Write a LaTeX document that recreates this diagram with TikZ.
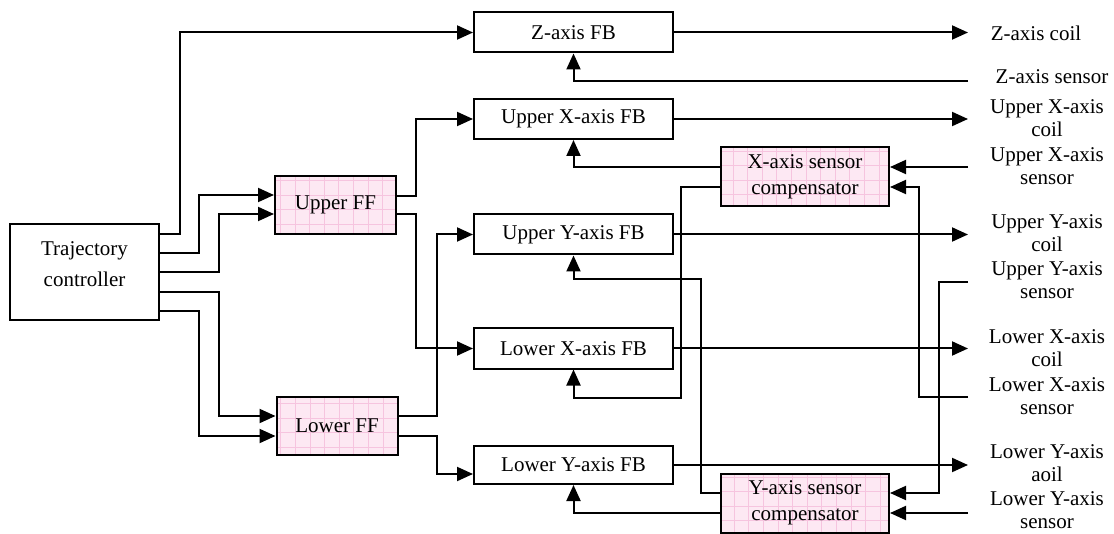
\documentclass[tikz,border=0pt]{standalone}
\usepackage{fontspec}
\setmainfont{Liberation Serif}
\usetikzlibrary{arrows.meta, calc}
\definecolor{ffpink}{HTML}{FDE8F3}
\definecolor{ffgrid}{HTML}{F6C4DF}

\begin{document}
\begin{tikzpicture}[x=0.5pt, y=-0.5pt,
    block/.style={draw, line width=1pt, inner sep=0pt, align=center, font=\fontsize{10.5}{13}\selectfont},
    fbblock/.style={block, minimum width=99.5pt, minimum height=20pt},
    pinkblock/.style={block, fill=ffpink, path picture={\draw[ffgrid, line width=0.3pt] (path picture bounding box.south west) grid[step=7.3pt] (path picture bounding box.north east);}},
    arr/.style={-{Triangle[length=8pt, width=7pt]}, line width=1pt},
    lbl/.style={align=center, inner sep=0pt, font=\fontsize{10.5}{11.5}\selectfont}]
    \useasboundingbox (0,0) rectangle (1114,534);

    \node[block, minimum width=74.5pt, minimum height=48pt, font=\fontsize{10.5}{15.5}\selectfont] (traj) at (84.5,272) {Trajectory\\controller\\[-7.5pt]};
    \node[pinkblock, minimum width=60.5pt, minimum height=29pt] (uff) at (335.5,205) {Upper FF};
    \node[pinkblock, minimum width=60.5pt, minimum height=29pt] (lff) at (337,426) {Lower FF};

    \node[fbblock] (zfb) at (573.5,32.5) {Z-axis FB};
    \node[fbblock] (uxfb) at (573.5,119) {Upper X-axis FB};
    \node[fbblock] (uyfb) at (573.5,234.5) {Upper Y-axis FB};
    \node[fbblock] (lxfb) at (573.5,348.5) {Lower X-axis FB};
    \node[fbblock, minimum height=19pt] (lyfb) at (573.5,465) {Lower Y-axis FB};

    \node[pinkblock, minimum width=84pt, minimum height=29.5pt] (xcomp) at (805,177) {X-axis sensor\\compensator};
    \node[pinkblock, minimum width=84pt, minimum height=29.5pt] (ycomp) at (805,503) {Y-axis sensor\\compensator};

    % coil and sensor terminals
    \node[lbl] (zcoil) at (1036,33) {Z-axis coil};
    \node[lbl] (zsens) at (1052,77) {Z-axis sensor};
    \node[lbl] (uxcoil) at (1047,118.5) {Upper X-axis\\coil};
    \node[lbl] (uxsens) at (1047,166) {Upper X-axis\\sensor};
    \node[lbl] (uycoil) at (1047,233.5) {Upper Y-axis\\coil};
    \node[lbl] (uysens) at (1047,280) {Upper Y-axis\\sensor};
    \node[lbl] (lxcoil) at (1047,348.5) {Lower X-axis\\coil};
    \node[lbl] (lxsens) at (1047,396) {Lower X-axis\\sensor};
    \node[lbl] (lycoil) at (1047,463.5) {Lower Y-axis\\aoil};
    \node[lbl] (lysens) at (1047,510) {Lower Y-axis\\sensor};

    \coordinate (edge) at (968,0);
    \coordinate (zsen) at (968,81);
    \coordinate (uxsen) at (968,167);
    \coordinate (uysen) at (968,282);
    \coordinate (lxsen) at (968,397);
    \coordinate (lysen) at (968,513);

    % trajectory controller to FB and FF
    \draw[arr] ([yshift=19pt]traj.east) -- ++(20,0) |- (zfb.west);
    \draw[arr] ([yshift=9.5pt]traj.east) -- ++(39,0) |- ([yshift=5pt]uff.west);
    \draw[arr] (traj.east) -- ++(59,0) |- ([yshift=-4.5pt]uff.west);
    \draw[arr] ([yshift=-10pt]traj.east) -- ++(59,0) |- ([yshift=5pt]lff.west);
    \draw[arr] ([yshift=-19.5pt]traj.east) -- ++(39,0) |- ([yshift=-5pt]lff.west);

    % feedforward to FB
    \draw[arr] ([yshift=4.5pt]uff.east) -- ++(19,0) |- (uxfb.west);
    \draw[arr] ([yshift=-4.5pt]uff.east) -- ++(19,0) |- (lxfb.west);
    \draw[arr] ([yshift=5pt]lff.east) -- ++(38,0) |- (uyfb.west);
    \draw[arr] ([yshift=-5pt]lff.east) -- ++(38,0) |- ([yshift=-4.5pt]lyfb.west);

    % FB to coils
    \draw[arr] (zfb.east) -- (zfb.east -| edge);
    \draw[arr] (uxfb.east) -- (uxfb.east -| edge);
    \draw[arr] (uyfb.east) -- (uyfb.east -| edge);
    \draw[arr] (lxfb.east) -- (lxfb.east -| edge);
    \draw[arr] (lyfb.east) -- (lyfb.east -| edge);

    % sensors
    \draw[arr] (zsen) -| (zfb.south);
    \draw[arr] (uxsen) -- ([yshift=5pt]xcomp.east);
    \draw[arr] (lxsen) -- ++(-49,0) |- ([yshift=-5pt]xcomp.east);
    \draw[arr] (uysen) -- ++(-29,0) |- ([yshift=5pt]ycomp.east);
    \draw[arr] (lysen) -- ([yshift=-5pt]ycomp.east);

    % compensators to FB
    \draw[arr] ([yshift=5pt]xcomp.west) -| (uxfb.south);
    \draw[arr] ([yshift=-5pt]xcomp.west) -- ++(-39,0) -- ++(0,211) -| (lxfb.south);
    \draw[arr] ([yshift=5pt]ycomp.west) -- ++(-19,0) -- ++(0,-214) -| (uyfb.south);
    \draw[arr] ([yshift=-5pt]ycomp.west) -| (lyfb.south);
\end{tikzpicture}
\end{document}
